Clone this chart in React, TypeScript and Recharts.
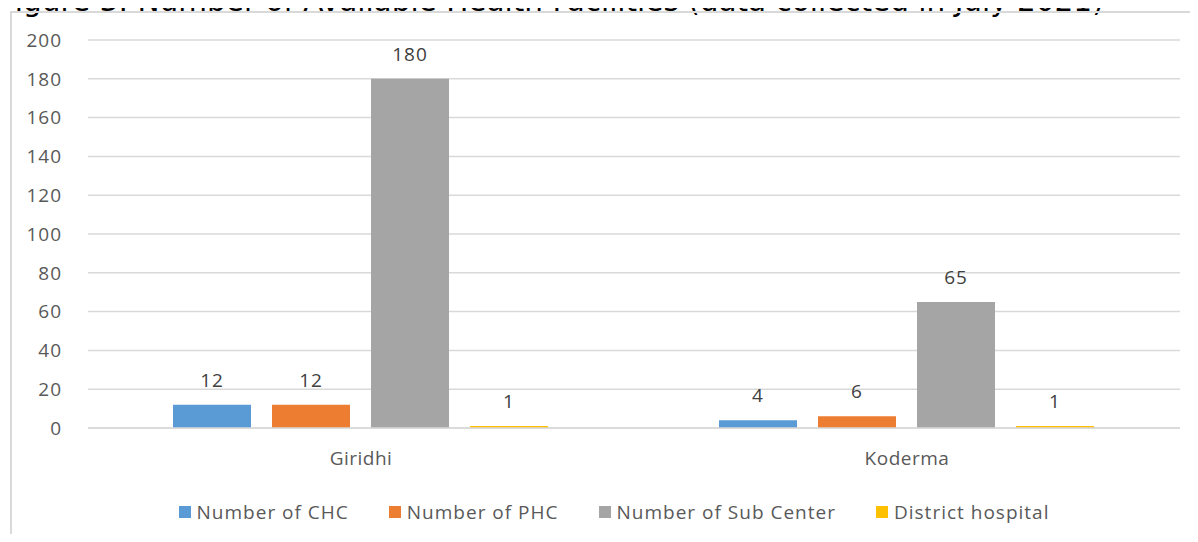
import { Bar, BarChart, CartesianGrid, LabelList, XAxis, YAxis } from "recharts"

const districts = ["Giridhi", "Koderma"]
const chcCounts = [12, 4]
const phcCounts = [12, 6]
const subCenterCounts = [180, 65]
const districtHospitalCounts = [1, 1]
const yTicks = [0, 20, 40, 60, 80, 100, 120, 140, 160, 180, 200]

const seriesList = [
  { key: "chc", name: "Number of CHC", color: "#5B9BD5" },
  { key: "phc", name: "Number of PHC", color: "#ED7D31" },
  { key: "sub", name: "Number of Sub Center", color: "#A5A5A5" },
  { key: "hospital", name: "District hospital", color: "#FFC000" },
]

const FONT = "'Open Sans', sans-serif"

export default function App() {
  // one row per district for the chart
  const chartData = districts.map((district, i) => ({
    district,
    chc: chcCounts[i],
    phc: phcCounts[i],
    sub: subCenterCounts[i],
    hospital: districtHospitalCounts[i],
  }))

  return (
    <div
      style={{
        position: "relative",
        width: 1198,
        height: 542,
        margin: -8,
        overflow: "hidden",
        background: "#fff",
        fontFamily: FONT,
      }}
    >
      {/* title is cut off at the top in the source */}
      <div
        style={{
          position: "absolute",
          left: 0,
          top: -13,
          fontFamily: "'DejaVu Sans', sans-serif",
          fontSize: 29.5,
          lineHeight: "29.5px",
          whiteSpace: "nowrap",
          color: "#000",
        }}
      >
        Figure 3: Number of Available Health Facilities (data collected in July 2021)
      </div>

      {/* chart border box */}
      <div
        style={{
          position: "absolute",
          left: 10,
          top: 11,
          width: 1400,
          height: 700,
          border: "2px solid #D9D9D9",
          boxSizing: "border-box",
        }}
      />

      <div style={{ position: "absolute", left: 0, top: 0 }}>
        <BarChart
          width={1198}
          height={542}
          data={chartData}
          margin={{ top: 40, right: 18, left: 0, bottom: 0 }}
          barCategoryGap={85}
          barGap={21}
        >
          <CartesianGrid vertical={false} stroke="#D9D9D9" strokeWidth={1.5} />
          <XAxis
            dataKey="district"
            height={114}
            axisLine={{ stroke: "#D9D9D9", strokeWidth: 1.5 }}
            tickLine={false}
            tickSize={0}
            tickMargin={24}
            tick={{ fontSize: 19, fill: "#595959", fontFamily: FONT, letterSpacing: 0.5 }}
          />
          <YAxis
            width={88}
            domain={[0, 200]}
            ticks={yTicks}
            axisLine={false}
            tickLine={false}
            tickSize={0}
            tickMargin={26}
            tick={{ fontSize: 19, fill: "#595959", fontFamily: FONT, letterSpacing: 1 }}
          />
          {seriesList.map((s) => (
            <Bar key={s.key} dataKey={s.key} name={s.name} fill={s.color} isAnimationActive={false}>
              <LabelList
                dataKey={s.key}
                position="top"
                offset={18}
                style={{ fontSize: 19, fill: "#404040", fontFamily: FONT, letterSpacing: 1 }}
              />
            </Bar>
          ))}
        </BarChart>
      </div>

      {/* legend */}
      <div
        style={{
          position: "absolute",
          left: 0,
          width: 1228,
          top: 499,
          display: "flex",
          justifyContent: "center",
          gap: 40,
          fontSize: 19,
          letterSpacing: 1,
          color: "#595959",
        }}
      >
        {seriesList.map((s) => (
          <div key={s.key} style={{ display: "flex", alignItems: "center" }}>
            <span style={{ width: 12, height: 12, background: s.color, marginRight: 6 }} />
            <span>{s.name}</span>
          </div>
        ))}
      </div>
    </div>
  )
}
